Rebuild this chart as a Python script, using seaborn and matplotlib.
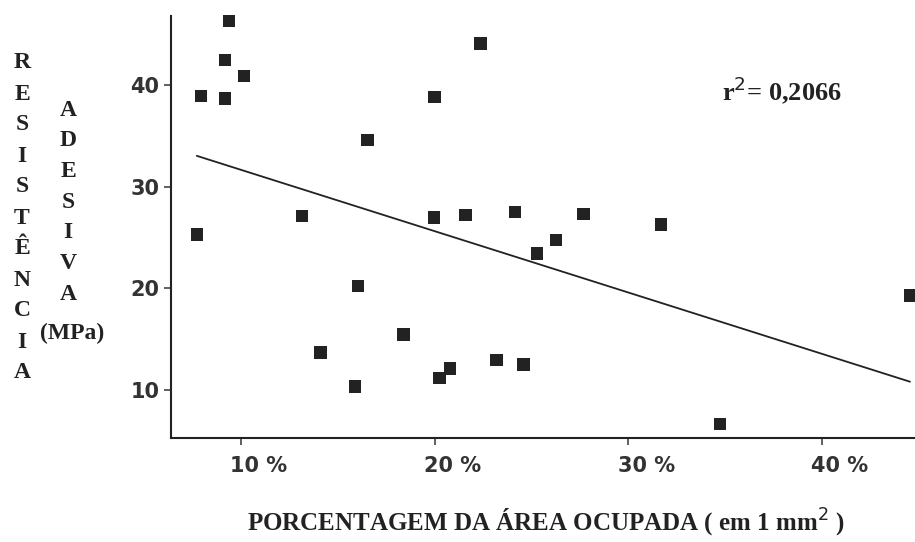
import matplotlib
matplotlib.use("Agg")
import matplotlib.pyplot as plt
import matplotlib.transforms as mtransforms
import seaborn as sns
import numpy as np
import pandas as pd

# data: % area occupied vs bond strength (MPa)
area_pct = [9.37, 9.18, 10.15, 7.95, 9.18, 20.0, 16.53, 13.14, 7.72, 19.96,
            22.37, 21.6, 24.16, 27.68, 31.7, 26.27, 25.29,
            16.05, 18.4, 14.1, 15.88, 20.26, 20.8,
            44.54, 23.2, 24.59, 34.73]
strength_mpa = [46.33, 42.46, 40.89, 38.92, 38.69, 38.85, 34.58, 27.09, 25.29, 26.97,
                44.1, 27.2, 27.52, 27.32, 26.27, 24.73, 23.42,
                20.2, 15.47, 13.7, 10.33, 11.15, 12.1,
                19.3, 12.97, 12.5, 6.64]
x_ticks = [10, 20, 30, 40]
x_tick_labels = ["10 %", "20 %", "30 %", "40 %"]
y_ticks = [10, 20, 30, 40]
r2_label = "r$^{2}$= 0,2066"

df = pd.DataFrame({"area": area_pct, "mpa": strength_mpa})

sns.set_style("white")
fig = plt.figure(figsize=(9.15, 5.42), dpi=100)
ax = fig.add_axes([0.1865, 0.1919, 0.8135, 0.7786])

sns.regplot(data=df, x="area", y="mpa", ax=ax, ci=None, truncate=True,
            marker="s",
            scatter_kws=dict(s=80, color="#222222", edgecolor="none", clip_on=False, alpha=1),
            line_kws=dict(color="#222222", lw=1.3))

ax.set_xlim(6.37, 44.8)
ax.set_ylim(5.27, 46.8)
ax.set_xticks(x_ticks)
ax.set_xticklabels(x_tick_labels)
ax.set_yticks(y_ticks)
for s in ["top", "right"]:
    ax.spines[s].set_visible(False)
for s in ["left", "bottom"]:
    ax.spines[s].set_color("#222222")
    ax.spines[s].set_linewidth(1.5)
ax.tick_params(axis="both", direction="out", length=5, width=1.2, color="#444444",
               labelsize=15, pad=3, left=True, bottom=True)
ax.tick_params(axis="x", pad=8)
for lab in ax.get_xticklabels() + ax.get_yticklabels():
    lab.set_fontfamily("DejaVu Sans")
    lab.set_fontweight("bold")
    lab.set_color("#333333")
shift = mtransforms.ScaledTranslation(18 / 100, 0, fig.dpi_scale_trans)
for lab in ax.get_xticklabels():
    lab.set_transform(lab.get_transform() + shift)
ax.set_xlabel("")
ax.set_ylabel("")

serif = dict(family="Liberation Serif", weight="bold", color="#222222")
ax.text(34.85, 39.5, r2_label, fontsize=19, va="center", ha="left", **serif)

fig.text(0.5967, 0.035, "PORCENTAGEM DA ÁREA OCUPADA ( em 1 mm$^{2}$ )",
         ha="center", va="center", fontsize=18, **serif)

word1 = "RESISTÊNCIA"
for i, ch in enumerate(word1):
    fig.text(22 / 915, 1 - (63 + i * 31) / 542, ch, ha="center", va="center", fontsize=17, **serif)
word2 = "ADESIVA"
for i, ch in enumerate(word2):
    fig.text(68 / 915, 1 - (110 + i * 30.7) / 542, ch, ha="center", va="center", fontsize=17, **serif)
fig.text(72.5 / 915, 1 - 333 / 542, "(MPa)", ha="center", va="center", fontsize=17, **serif)

fig.savefig("out.png", dpi=100)
